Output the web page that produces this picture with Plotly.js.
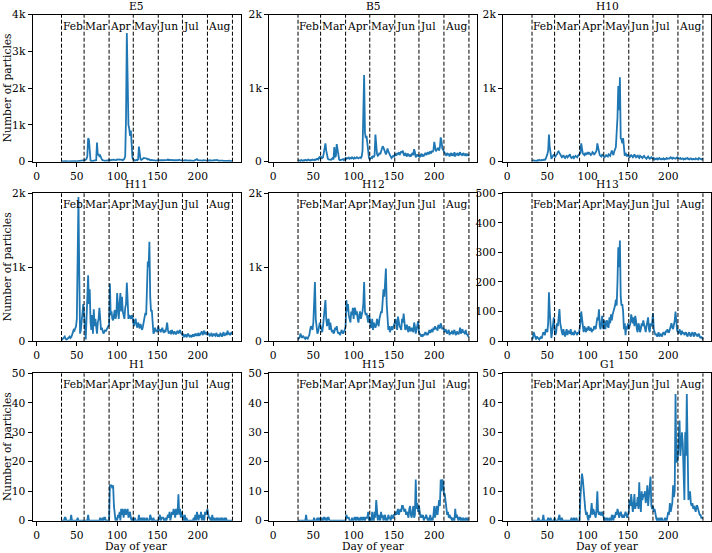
<!DOCTYPE html>
<html>
<head>
<meta charset="utf-8">
<script src="https://cdn.plot.ly/plotly-3.0.1.min.js"></script>
<style>
html,body{margin:0;padding:0;background:#fff;}
#chart{width:712px;height:553px;}
</style>
</head>
<body>
<div id="chart"></div>
<script>
// ---------------- DATA ----------------
const startDay = 31; // first day of the series (1 Feb)
const siteNames = ["E5", "B5", "H10", "H11", "H12", "H13", "H1", "H15", "G1"];
const monthStarts = [31, 59, 90, 120, 151, 181, 212, 243];
const monthLabels = ["Feb", "Mar", "Apr", "May", "Jun", "Jul", "Aug"];
const xTickVals = [0, 50, 100, 150, 200];
const xTickText = ["0", "50", "100", "150", "200"];
const yMax = [4000, 2000, 2000, 2000, 2000, 500, 50, 50, 50];
const yTickValsK4 = [0, 1000, 2000, 3000, 4000];
const yTickTextK4 = ["0", "1k", "2k", "3k", "4k"];
const yTickValsK2 = [0, 1000, 2000];
const yTickTextK2 = ["0", "1k", "2k"];
const yTickVals500 = [0, 100, 200, 300, 400, 500];
const yTickText500 = ["0", "100", "200", "300", "400", "500"];
const yTickVals50 = [0, 10, 20, 30, 40, 50];
const yTickText50 = ["0", "10", "20", "30", "40", "50"];

const E5 = [
 5,10,8,12,6,10,15,8,10,12,
 10,15,12,8,14,10,12,16,10,12,
 15,12,18,14,20,16,22,25,30,40,
 50,80,150,640,600,200,30,15,20,25,
 30,20,25,40,520,180,210,150,170,90,
 60,40,30,35,25,30,40,35,30,50,
 40,45,50,60,45,55,50,40,45,60,
 50,55,60,45,50,55,40,60,80,150,
 1200,3500,1500,1000,900,700,850,300,100,60,
 40,30,40,50,35,60,410,120,60,50,
 70,90,100,95,100,90,80,60,70,50,
 40,50,45,40,35,45,40,30,35,40,
 30,40,35,45,40,35,50,40,45,40,
 50,45,60,40,50,45,40,35,50,40,
 45,40,35,50,40,45,55,40,35,50,
 40,35,30,40,35,30,40,35,30,35,
 30,40,35,30,25,35,40,50,70,45,
 40,35,50,40,35,30,40,35,30,40,
 35,30,25,40,35,30,25,35,30,40,
 35,30,45,50,30,25,30,35,30,25,
 30,25,30,35,30,25,20,30,25,20,
 25,20,15];

const B5 = [
 10,20,15,10,25,15,10,20,15,25,
 20,15,25,30,20,15,25,20,30,25,
 20,30,25,35,40,30,50,70,40,60,
 50,60,120,200,250,150,60,40,30,25,
 30,25,40,50,30,200,60,80,240,150,
 60,30,20,25,30,40,35,20,30,50,
 40,50,45,55,40,50,45,60,50,40,
 55,45,50,60,50,45,55,60,50,70,
 150,600,1180,400,320,350,250,120,50,30,
 40,60,50,80,60,90,370,200,100,80,
 90,120,100,140,180,210,190,150,120,100,
 130,180,140,110,90,70,50,60,80,70,
 90,110,80,120,100,130,90,110,140,120,
 150,100,80,120,90,70,110,100,80,90,
 70,100,120,90,170,130,60,80,100,70,
 90,60,80,110,70,90,80,100,120,90,
 110,130,100,120,140,110,150,130,160,270,
 200,140,160,180,190,150,200,330,280,180,
 160,140,120,100,80,120,90,110,70,100,
 120,80,100,90,130,70,110,90,120,80,
 100,130,90,110,80,120,100,90,110,80,
 100,90,80];

const H10 = [
 10,15,20,12,18,15,10,20,15,25,
 20,15,25,18,22,30,25,40,60,100,
 150,370,200,50,40,60,90,100,80,70,
 90,100,130,140,120,100,80,60,70,90,
 60,50,70,80,60,70,90,100,60,50,
 60,70,50,60,80,70,60,80,90,100,
 120,250,150,110,100,90,120,100,110,130,
 100,120,110,90,100,130,120,100,110,140,
 150,250,180,100,90,80,70,100,90,80,
 60,70,90,80,70,100,90,80,120,150,
 120,90,140,160,200,400,600,1030,700,1150,
 320,300,250,320,100,80,120,90,70,100,
 80,60,70,90,80,60,70,100,80,60,
 70,90,60,50,80,70,60,50,70,80,
 60,50,40,60,70,50,40,50,60,50,
 40,50,30,40,35,45,30,40,50,35,
 30,40,35,45,30,40,35,50,40,45,
 40,50,60,45,40,55,50,45,40,50,
 60,50,45,40,50,35,40,45,30,40,
 35,45,40,50,35,30,40,45,35,30,
 40,35,30,45,40,35,30,50,40,35,
 30,40,35];

const H11 = [
 10,20,30,40,60,30,20,25,40,50,
 60,40,50,80,120,150,140,160,200,300,
 1500,1950,900,100,150,300,450,500,350,100,
 20,300,600,890,500,700,250,150,350,100,
 430,200,300,150,100,250,300,450,200,150,
 180,150,100,120,150,130,160,180,200,220,
 780,350,400,300,280,350,420,300,350,650,
 450,300,500,650,400,600,400,350,300,450,
 500,790,400,300,350,320,300,350,330,250,
 200,280,300,220,180,250,200,170,230,180,
 150,200,250,300,380,350,600,1075,1000,1345,
 600,400,420,150,100,120,180,130,150,120,
 200,140,160,120,150,180,130,110,150,120,
 180,250,150,100,120,130,90,150,110,100,
 130,110,90,120,140,100,130,150,110,90,
 80,100,60,70,90,50,80,100,70,60,
 80,50,70,90,60,80,100,70,90,80,
 110,70,90,100,130,80,110,140,90,120,
 100,80,110,90,70,80,110,60,90,100,
 80,70,110,90,60,80,70,100,90,60,
 80,120,70,90,100,80,140,90,110,80,
 100,120,90];

const H12 = [
 20,30,50,100,60,40,70,50,40,30,
 50,40,30,60,80,150,200,180,150,250,
 500,800,300,150,100,130,180,250,200,150,
 120,200,350,500,555,300,200,280,300,150,
 250,180,120,150,100,120,180,150,200,130,
 100,120,80,110,150,120,100,130,150,200,
 555,400,500,350,300,250,400,350,450,300,
 450,430,350,400,300,250,350,400,300,350,
 400,500,800,400,350,380,300,250,350,300,
 200,180,300,150,250,200,180,220,300,250,
 200,300,350,400,380,500,700,600,900,980,
 500,250,150,200,120,160,200,150,180,200,
 250,300,200,150,330,250,200,180,150,300,
 250,370,200,150,180,220,150,120,200,150,
 130,180,150,120,250,200,100,150,200,270,
 120,100,80,60,90,70,80,100,120,90,
 100,80,120,150,110,130,160,120,180,150,
 200,160,180,140,220,190,170,240,200,160,
 180,150,120,160,140,100,130,150,80,120,
 100,140,90,120,150,100,80,130,110,90,
 120,180,100,140,160,110,130,90,150,100,
 80,60,50];

const H13 = [
 5,10,30,20,10,5,15,10,8,5,
 10,15,8,20,30,25,20,40,35,30,
 60,165,100,20,10,30,60,80,40,20,
 30,60,50,80,108,60,40,30,20,40,
 25,15,30,40,20,35,30,25,40,20,
 30,25,20,35,30,25,20,30,25,40,
 60,100,70,40,30,50,40,30,45,35,
 50,40,35,45,30,40,35,50,45,40,
 60,80,70,107,50,40,60,85,45,40,
 70,40,60,70,50,45,80,60,90,70,
 90,100,110,120,140,120,200,317,250,340,
 150,120,125,100,40,60,20,50,40,60,
 40,50,60,90,70,60,80,50,85,70,
 40,30,60,50,30,40,60,50,70,55,
 40,30,50,70,80,40,30,60,50,60,
 94,40,30,20,25,15,20,30,15,20,
 25,15,20,30,25,20,35,30,40,30,
 30,40,50,60,45,40,55,70,100,50,
 35,30,25,40,30,20,35,25,30,20,
 25,30,20,15,25,30,20,15,25,30,
 20,15,30,20,25,15,20,25,15,10,
 15,10,5];

const H1 = [
 0,0,0,0,1,1,0,0,0,0,
 0,0,2,0,0,0,0,0,0,0,
 1,0,0,0,0,0,0,0,0,0,
 0,0,0,2,0,0,0,0,0,0,
 0,0,0,0,0,0,0,0,1,0,
 0,1,0,1,1,0,0,0,0,0,
 12,12,12,11,12,5,1,0,1,0,
 2,1,3,0,4,2,4,1,3,4,
 2,3,4,1,2,3,1,0,0,1,
 0,1,0,0,0,0,2,0,0,1,
 0,1,0,1,0,0,1,0,0,0,
 2,1,0,0,1,0,0,0,0,0,
 0,1,2,0,1,1,1,0,0,1,
 0,1,2,1,3,0,2,3,2,4,
 3,1,4,2,3,9,2,4,1,3,
 2,1,0,2,0,1,0,0,0,0,
 0,0,0,0,1,0,2,0,3,1,
 0,2,1,3,0,2,1,0,3,2,
 3,4,2,1,1,0,0,2,0,1,
 0,0,1,0,1,0,0,1,0,1,
 0,0,1,0,1,0,0,0,0,0,
 0,0,0];

const H15 = [
 0,0,0,0,0,0,0,0,0,0,
 2,0,0,0,0,0,0,0,0,0,
 1,0,0,0,1,0,1,0,1,0,
 1,0,1,1,0,1,0,1,1,0,
 0,0,0,0,0,0,0,0,0,0,
 0,0,0,0,0,0,0,0,0,0,
 2,1,1,1,0,0,0,1,0,0,
 1,1,0,1,1,0,1,0,1,1,
 0,1,1,0,1,1,1,3,0,0,
 1,0,3,0,0,3,1,7,1,0,
 2,1,0,3,1,2,0,1,2,0,
 1,0,2,1,1,0,2,1,1,2,
 2,3,2,3,4,2,3,4,3,5,
 5,4,3,4,2,3,2,1,4,5,
 2,1,3,5,1,2,14,4,6,3,
 5,2,1,2,1,2,0,1,1,2,
 1,0,1,0,2,0,1,0,2,5,
 1,3,5,2,4,7,5,14,10,14,
 13,9,9,6,3,2,3,1,2,1,
 1,0,1,0,0,4,1,2,1,0,
 1,1,0,1,0,1,0,0,1,0,
 1,0,0];

const G1 = [
 0,0,0,0,0,0,0,0,1,0,
 0,0,0,0,2,0,0,0,0,0,
 1,0,0,1,0,0,0,0,1,0,
 0,0,0,1,2,0,0,1,0,0,
 0,0,0,0,0,0,0,0,0,1,
 0,0,1,0,0,1,0,0,0,0,
 8,12,16,14,10,7,4,2,3,1,
 0,2,1,3,6,2,4,3,2,1,
 4,10,3,2,3,2,2,3,2,1,
 0,1,0,1,0,0,1,0,0,2,
 1,0,2,1,3,2,4,3,1,2,
 3,2,1,2,1,2,3,2,1,2,
 3,7,5,9,6,3,5,9,4,6,
 5,8,4,13,6,3,10,7,9,8,
 10,6,8,12,5,9,13,15,5,4,
 5,3,4,2,1,0,1,0,0,1,
 0,1,0,0,0,1,0,0,2,3,
 2,6,3,5,6,12,8,10,43,20,
 20,22,29,34,22,28,30,26,15,7,
 30,22,43,10,7,9,10,6,5,6,
 4,5,4,3,5,5,4,3,2,2,
 1,1,1];

const seriesList = [E5, B5, H10, H11, H12, H13, H1, H15, G1];
const yTicks = [
  [yTickValsK4, yTickTextK4], [yTickValsK2, yTickTextK2], [yTickValsK2, yTickTextK2],
  [yTickValsK2, yTickTextK2], [yTickValsK2, yTickTextK2], [yTickVals500, yTickText500],
  [yTickVals50, yTickText50], [yTickVals50, yTickText50], [yTickVals50, yTickText50]
];

// ---------------- LAYOUT ----------------
const W = 712, H = 553;
const colPx = [[32.5, 240.5], [269, 477], [503, 711]];
const rowPx = [[14.7, 161.7], [193.3, 341], [373.3, 520.7]];
const FONT = "DejaVu Serif";
const FS = 10.67;

const layout = {
  width: W, height: H,
  margin: {l: 0, r: 0, t: 0, b: 0, pad: 0},
  paper_bgcolor: "#fff", plot_bgcolor: "#fff",
  showlegend: false,
  font: {family: FONT, size: FS, color: "#000"},
  annotations: [], shapes: []
};

const traces = [];
for (let i = 0; i < 9; i++) {
  const r = Math.floor(i / 3), c = i % 3;
  const n = i + 1;
  const xa = "xaxis" + (n === 1 ? "" : n), ya = "yaxis" + (n === 1 ? "" : n);
  const xr = "x" + (n === 1 ? "" : n), yr = "y" + (n === 1 ? "" : n);
  const vals = seriesList[i];
  const xs = vals.map((_, k) => startDay + k);
  traces.push({
    type: "scatter", mode: "lines", x: xs, y: vals,
    xaxis: xr, yaxis: yr,
    line: {color: "#1f77b4", width: 1.8}, hoverinfo: "skip"
  });
  const common = {
    showline: true, mirror: true, linecolor: "#000", linewidth: 1,
    ticks: "outside", ticklen: 4, tickwidth: 1, tickcolor: "#000",
    showgrid: false, zeroline: false, fixedrange: true,
    tickfont: {family: FONT, size: FS, color: "#000"}
  };
  layout[xa] = Object.assign({}, common, {
    domain: [colPx[c][0] / W, colPx[c][1] / W],
    range: [-5, 253], anchor: yr,
    tickmode: "array", tickvals: xTickVals, ticktext: xTickText
  });
  layout[ya] = Object.assign({}, common, {
    domain: [1 - rowPx[r][1] / H, 1 - rowPx[r][0] / H],
    range: [0, yMax[i]], anchor: xr,
    tickmode: "array", tickvals: yTicks[i][0], ticktext: yTicks[i][1]
  });
  // dashed month boundaries
  monthStarts.forEach(d => {
    layout.shapes.push({
      type: "line", xref: xr, yref: yr + " domain", x0: d, x1: d, y0: 0, y1: 1,
      line: {color: "#000", width: 1, dash: "4px,2px"}
    });
  });
  // month labels
  monthLabels.forEach((m, k) => {
    layout.annotations.push({
      text: m, xref: xr, yref: yr + " domain", x: monthStarts[k], y: 1,
      xanchor: "left", yanchor: "middle", yshift: -11.5, xshift: -1,
      showarrow: false, font: {family: FONT, size: FS, color: "#000"}
    });
  });
  // subplot title
  layout.annotations.push({
    text: siteNames[i], xref: xr + " domain", yref: yr + " domain", x: 0.5, y: 1,
    xanchor: "center", yanchor: "middle", yshift: 8.5,
    showarrow: false, font: {family: FONT, size: FS, color: "#000"}
  });
  if (c === 0) {
    layout.annotations.push({
      text: "Number of particles", xref: "paper", yref: yr + " domain",
      x: 7 / W, y: 0.5, xanchor: "center", yanchor: "middle", textangle: -90,
      showarrow: false, font: {family: FONT, size: FS, color: "#000"}
    });
  }
  if (r === 2) {
    layout.annotations.push({
      text: "Day of year", xref: xr + " domain", yref: yr + " domain",
      x: 0.5, y: 0, xanchor: "center", yanchor: "middle", yshift: -25.5,
      showarrow: false, font: {family: FONT, size: FS, color: "#000"}
    });
  }
}

Plotly.newPlot("chart", traces, layout, {staticPlot: true, displayModeBar: false});
</script>
</body>
</html>
